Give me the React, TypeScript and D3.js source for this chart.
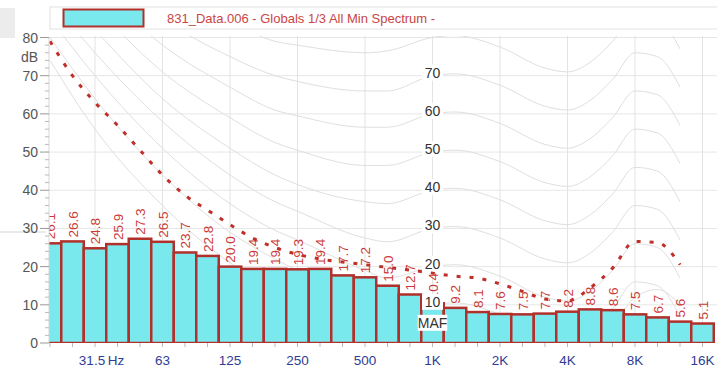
import React from "react";
import * as d3 from "d3";

// 1/3-octave bands (index 0 = 20 Hz ... 29 = 16 kHz)
const bandNames = ["20","25","31.5","40","50","63","80","100","125","160","200","250","315","400","500","630","800","1K","1.25K","1.6K","2K","2.5K","3.15K","4K","5K","6.3K","8K","10K","12.5K","16K"];
const barValues = [26.1,26.6,24.8,25.9,27.3,26.5,23.7,22.8,20.0,19.4,19.4,19.3,19.4,17.7,17.2,15.0,12.7,10.4,9.2,8.1,7.6,7.5,7.7,8.2,8.8,8.6,7.5,6.7,5.6,5.1];
const barLabels = ["26.1","26.6","24.8","25.9","27.3","26.5","23.7","22.8","20.0","19.4","19.4","19.3","19.4","17.7","17.2","15.0","12.7","10.4","9.2","8.1","7.6","7.5","7.7","8.2","8.8","8.6","7.5","6.7","5.6","5.1"];

// red dotted reference curve, 20 Hz .. 12.5 kHz
const refCurve = [79,70,63,57,50.5,44,38.7,34.8,31,27.5,25,23.2,22,21.2,20.5,19.8,19.1,18.3,17.5,17,15.5,13.5,11.5,11,14.4,19.6,26.6,26.3,20.5];

// equal-loudness contours, values at selected band indices
const contourIdx = [0,2,5,8,10,11,14,15,17,18,20,22,23,24,25,26,27,28];
const contourMAF = [74,56,36,21,14,11,5,4,4.5,5,2,-3,-4,-2,4,12,14,10];
const contour10 = [80,64,44,29,22,19,12,9.5,10,10.5,7.5,2,1,3.5,9,16,15,7];
const contour20 = [85,70,51,36.5,29.5,27,19,17,20,20.5,17.5,12,11,13.5,19,26,25,17];
const contour30 = [90,76,58,44,37,34.5,27.5,26.5,30,30.5,27.5,22,21,23.5,29,36,35,27];
const contour40 = [95,82,64,51,44,41.5,37,36.5,40,40.5,37.5,32,31,33.5,39,46,45,37];
const contour50 = [100,88,71,59,52.5,50.5,46.5,46.5,50,50.5,47.5,42,41,43.5,49,56,55,47];
const contour60 = [105,94,78,67,61,59.5,56.5,56.5,60,60.5,57.5,52,51,53.5,59,66,65,57];
const contour70 = [110,100,85,75,70,68.5,66,66,70,70.5,67.5,62,61,63.5,69,76,75,67];
const contour80 = [115,106,92,84,79,78,76,76.5,80,80.5,77.5,72,71,73.5,79,86,85,77];
const contour90 = [120,112,100,92,88,87,86,86.5,90,90.5,87.5,82,81,83.5,89,96,95,87];
const contourSets = [contourMAF,contour10,contour20,contour30,contour40,contour50,contour60,contour70,contour80,contour90];
const contourLabels = ["70","60","50","40","30","20","10","MAF"];
const contourLabelDb = [70,60,50,40,30,20,10,4.5];

const xTickIdx = [2,5,8,11,14,17,20,23,26,29];
const xTickLabels = ["31.5","63","125","250","500","1K","2K","4K","8K","16K"];
const yTicks = [0,10,20,30,40,50,60,70,80];

const legendText = "831_Data.006 - Globals 1/3 All Min Spectrum -";

export default function App() {
  const W = 717, H = 369;
  const plotL = 49, plotR = 717, plotT = 36, plotB = 343;
  const x = d3.scaleLinear().domain([0, 29]).range([50, 702.5]);
  const y = d3.scaleLinear().domain([0, 80]).range([343, 37.5]);
  const bw = x(1) - x(0);
  const font = "'Liberation Sans', Arial, Helvetica, sans-serif";
  const cyan = "#7ae9ee";
  const barStroke = "#b0302b";
  const red = "#cc3a36";

  const contourLine = d3.line<number>()
    .x((_, i) => x(contourIdx[i]))
    .y((d) => y(d))
    .curve(d3.curveMonotoneX);
  const refLine = d3.line<number>()
    .x((_, i) => x(i))
    .y((d) => y(d))
    .curve(d3.curveMonotoneX);

  const minorY = d3.range(0, 81, 2).filter((v) => v % 10 !== 0);

  return (
    <svg width={W} height={H} style={{ display: "block", position: "absolute", left: 0, top: 0, background: "#fff" }} fontFamily={font}>
      <defs>
        <clipPath id="plotClip">
          <rect x={plotL} y={plotT} width={plotR - plotL} height={plotB - plotT} />
        </clipPath>
      </defs>
      {/* UI artifacts */}
      <rect x={0} y={8} width={15} height={30} fill="#ececec" />
      <line x1={0} x2={46} y1={232} y2={232} stroke="#e4e4e4" strokeWidth={1.5} />

      {/* legend */}
      <rect x={50} y={7} width={690} height={22} fill="#fff" stroke="#e2e2e2" />
      <rect x={63.5} y={9.5} width={80} height={17} fill={cyan} stroke={barStroke} strokeWidth={2} />
      <text x={167} y={22.5} fontSize={13} fill="#c94545">{legendText}</text>

      {/* grid */}
      <g clipPath="url(#plotClip)">
        {yTicks.map((t) => (
          <line key={"gy" + t} x1={plotL} x2={plotR} y1={y(t)} y2={y(t)} stroke="#e6e6e6" />
        ))}
        {xTickIdx.map((i) => (
          <line key={"gx" + i} x1={x(i)} x2={x(i)} y1={plotT} y2={plotB} stroke="#e3e3e3" />
        ))}
        {contourSets.map((c, k) => (
          <path key={"c" + k} d={contourLine(c) || ""} fill="none" stroke="#dfdfdf" strokeWidth={1} />
        ))}
        {/* bars */}
        {barValues.map((v, i) => (
          <rect key={"b" + i} x={x(i) - bw / 2} y={y(v)} width={bw} height={y(0) - y(v)} fill={cyan} stroke={barStroke} strokeWidth={2.5} />
        ))}
        {barValues.map((v, i) => (
          <text key={"bl" + i} transform={`translate(${x(i) + 5},${y(v) - 4}) rotate(-90)`} fontSize={13.5} fill={red}>{barLabels[i]}</text>
        ))}
        {/* contour labels */}
        {contourLabels.map((l, k) => {
          const cy = y(contourLabelDb[k]) - 3;
          const w = l.length * 8.5 + 4;
          return (
            <g key={"cl" + k}>
              <rect x={x(17) - w / 2} y={cy - 8} width={w} height={16} fill="#fff" />
              <text x={x(17)} y={cy + 5} fontSize={14} fill="#333" textAnchor="middle">{l}</text>
            </g>
          );
        })}
        {/* reference dotted curve */}
        <path d={refLine(refCurve) || ""} fill="none" stroke="#c0302b" strokeWidth={3} strokeDasharray="4 9" />
      </g>

      {/* y axis */}
      <line x1={plotL} x2={plotL} y1={37} y2={plotB} stroke="#d6d6d6" />
      {yTicks.map((t) => (
        <g key={"yt" + t}>
          <line x1={40} x2={plotL} y1={y(t)} y2={y(t)} stroke="#999" />
          <text x={38} y={y(t) + 5} fontSize={14} fill="#555" textAnchor="end">{t}</text>
        </g>
      ))}
      {minorY.map((t) => (
        <line key={"ym" + t} x1={45} x2={plotL} y1={y(t)} y2={y(t)} stroke="#bbb" />
      ))}
      <text x={38} y={y(75) + 5} fontSize={14} fill="#555" textAnchor="end">dB</text>

      {/* x axis */}
      {bandNames.map((_, i) => (
        <line key={"xt" + i} x1={x(i)} x2={x(i)} y1={plotB} y2={plotB + 4} stroke="#bbb" />
      ))}
      {xTickIdx.map((i, k) => (
        <text key={"xl" + i} x={x(i) - (k === 0 ? 3 : 0)} y={365} fontSize={13.5} fill="#2f3d94" textAnchor="middle">{xTickLabels[k]}</text>
      ))}
      <text x={116} y={365} fontSize={13.5} fill="#2f3d94" textAnchor="middle">Hz</text>
    </svg>
  );
}
